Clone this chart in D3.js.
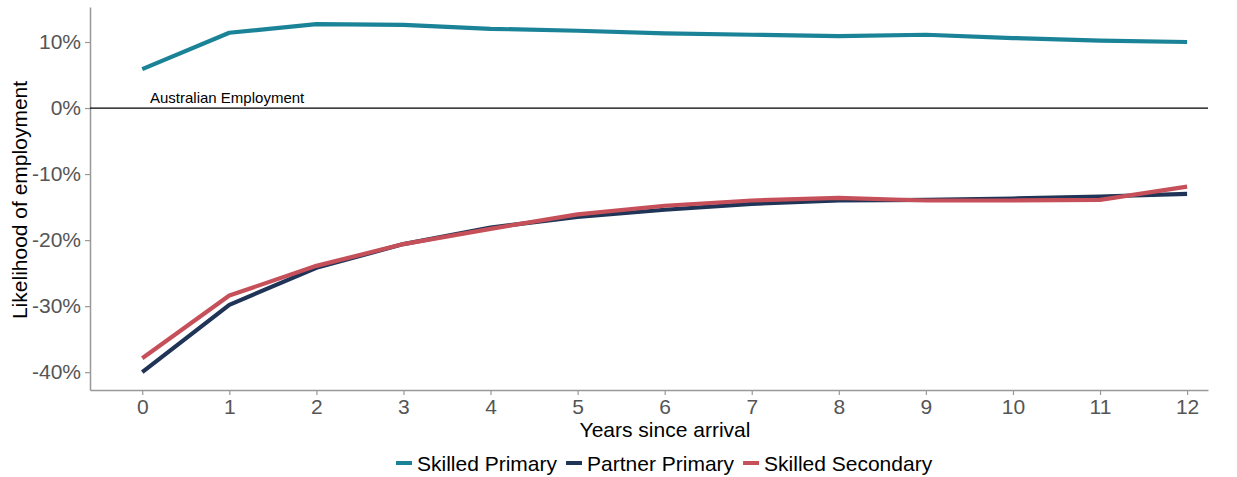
<!DOCTYPE html>
<html><head><meta charset="utf-8">
<script src="https://cdn.jsdelivr.net/npm/d3@7"></script>
<style>body{margin:0;background:#fff;} text{font-family:"Liberation Sans",Arial,sans-serif;}</style>
</head><body><svg id="c" width="1237" height="477"></svg>
<script>
const years = [0,1,2,3,4,5,6,7,8,9,10,11,12];
const skilledPrimary = [5.9,11.4,12.7,12.6,12.0,11.7,11.3,11.1,10.9,11.1,10.6,10.2,10.0];
const partnerPrimary = [-40.0,-29.8,-24.2,-20.6,-18.1,-16.5,-15.4,-14.5,-14.0,-13.9,-13.7,-13.4,-13.0];
const skilledSecondary = [-37.9,-28.4,-23.9,-20.6,-18.3,-16.1,-14.8,-14.0,-13.6,-14.0,-14.0,-13.9,-11.9];
const seriesNames = ["Skilled Primary","Partner Primary","Skilled Secondary"];
const colors = ["#1a8397","#1f3456","#c6505a"];
const yTicks = [10,0,-10,-20,-30,-40];

const svg = d3.select("#c");
const x = d3.scaleLinear().domain([-0.6,12.24]).range([90,1208]);
const y = d3.scaleLinear().domain([15.3,-42.7]).range([7,390]);
const FF = "'Liberation Sans',Arial,sans-serif";

const xa = svg.append("g").attr("transform","translate(0,390)")
  .call(d3.axisBottom(x).tickValues(years).tickSize(5).tickSizeOuter(0).tickFormat(d3.format("d")));
const ya = svg.append("g").attr("transform","translate(90,0)")
  .call(d3.axisLeft(y).tickValues(yTicks).tickSize(5).tickSizeOuter(0).tickFormat(d=>d+"%"));
[xa,ya].forEach(a=>{
  a.select(".domain").attr("stroke","#999").attr("stroke-width",1.5);
  a.selectAll(".tick line").attr("stroke","#999").attr("stroke-width",1.2);
  a.selectAll(".tick text").attr("fill","#555").style("font-size","21px").style("font-family",FF);
});
xa.selectAll(".tick text").attr("dy","0.78em");
ya.selectAll(".tick text").attr("dx","-1");

svg.append("line").attr("x1",x(-0.6)).attr("x2",x(12.24)).attr("y1",y(0)).attr("y2",y(0))
  .attr("stroke","#000").attr("stroke-width",1.3);
svg.append("text").attr("x",150).attr("y",y(0)-5).text("Australian Employment")
  .style("font-size","15px").attr("fill","#000");

const line = d3.line().x((d,i)=>x(years[i])).y(d=>y(d));
const data = [skilledPrimary, partnerPrimary, skilledSecondary];
[1,2,0].forEach(i=>{
  svg.append("path").datum(data[i]).attr("d",line).attr("fill","none")
    .attr("stroke",colors[i]).attr("stroke-width",4.2).attr("stroke-linejoin","round");
});

svg.append("text").attr("x",665).attr("y",437).attr("text-anchor","middle")
  .style("font-size","21px").attr("fill","#000").text("Years since arrival");
svg.append("text").attr("transform","translate(27,200) rotate(-90)").attr("text-anchor","middle")
  .style("font-size","21px").attr("fill","#000").text("Likelihood of employment");

const lg = svg.append("g");
let lx = 396;
seriesNames.forEach((n,i)=>{
  lg.append("line").attr("x1",lx).attr("x2",lx+16).attr("y1",463).attr("y2",463)
    .attr("stroke",colors[i]).attr("stroke-width",4);
  const t = lg.append("text").attr("x",lx+21).attr("y",470.5).style("font-size","21px").attr("fill","#000").text(n);
  lx = lx + 21 + t.node().getComputedTextLength() + 9;
});
</script></body></html>
